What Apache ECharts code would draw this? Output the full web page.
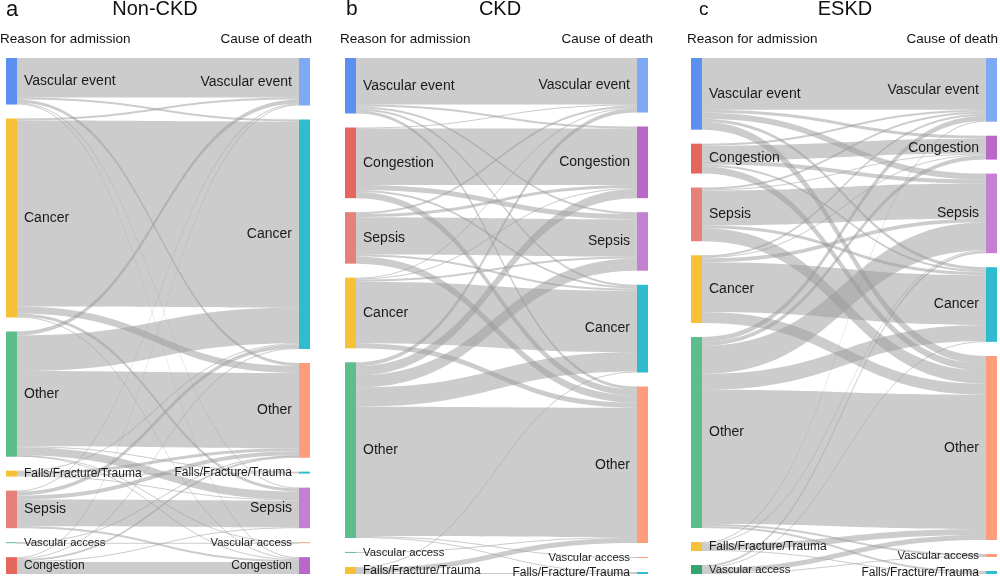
<!DOCTYPE html>
<html>
<head>
<meta charset="utf-8">
<script src="https://cdn.jsdelivr.net/npm/echarts@6/dist/echarts.min.js"></script>
<style>
html,body{margin:0;padding:0;background:#fff;}
#chart{width:1000px;height:576px;}
</style>
</head>
<body>
<div id="chart"></div>
<script>
// ---------- DATA ----------
const panelTitles = ['Non-CKD', 'CKD', 'ESKD'];
const panelLetters = ['a', 'b', 'c'];
const leftHeader = 'Reason for admission';
const rightHeader = 'Cause of death';

// Panel a: Non-CKD
const leftA = ['Vascular event', 'Cancer', 'Other', 'Falls/Fracture/Trauma', 'Sepsis', 'Vascular access', 'Congestion'];
const rightA = ['Vascular event', 'Cancer', 'Other', 'Falls/Fracture/Trauma', 'Sepsis', 'Vascular access', 'Congestion'];
const flowsA = [
  [40, 2, 3, 0, 1, 0, 1],
  [2, 188, 7, 0, 3, 0, 1],
  [4, 36, 76, 1, 8, 0.5, 1],
  [0, 1, 3, 1, 1, 0, 0],
  [1, 4, 4, 0, 27, 0, 2],
  [0, 0, 0.5, 0, 0, 0.5, 0],
  [1, 1, 2, 0, 1, 0, 12]
];

// Panel b: CKD
const leftB = ['Vascular event', 'Congestion', 'Sepsis', 'Cancer', 'Other', 'Vascular access', 'Falls/Fracture/Trauma'];
const rightB = ['Vascular event', 'Congestion', 'Sepsis', 'Cancer', 'Other', 'Vascular access', 'Falls/Fracture/Trauma'];
const flowsB = [
  [46, 2, 2, 2, 3, 0, 0],
  [1, 56, 5, 2, 6, 0, 0],
  [2, 3, 37, 2, 7, 0, 0],
  [1, 1, 2, 61, 5, 0, 0],
  [4, 9, 12, 19, 128, 1, 1],
  [0, 0, 0, 0, 1, 0, 0],
  [0, 0, 0, 1, 5, 0, 1]
];

// Panel c: ESKD
const leftC = ['Vascular event', 'Congestion', 'Sepsis', 'Cancer', 'Other', 'Falls/Fracture/Trauma', 'Vascular access'];
const rightC = ['Vascular event', 'Congestion', 'Sepsis', 'Cancer', 'Other', 'Vascular access', 'Falls/Fracture/Trauma'];
const flowsC = [
  [52, 3, 6, 3, 8, 0, 0],
  [2, 15, 4, 2, 7, 0, 0],
  [2, 1, 35, 3, 13, 0, 0],
  [2, 1, 4, 50, 11, 0, 0],
  [5, 4, 28, 16, 135, 2, 2],
  [1, 0, 1, 0, 6, 0, 1],
  [0, 0, 2, 1, 5, 1, 0]
];

// ---------- STYLE ----------
const leftColors = {
  'Vascular event': '#5B8FF0',
  'Cancer': '#F6C137',
  'Falls/Fracture/Trauma': '#F6C137',
  'Other': '#5CBE8C',
  'Vascular access': '#5CBE8C',
  'Sepsis': '#E8807A',
  'Congestion': '#E5665C'
};
const rightColors = {
  'Vascular event': '#7DA9F5',
  'Cancer': '#30BCCF',
  'Falls/Fracture/Trauma': '#30BCCF',
  'Other': '#FF9C7C',
  'Vascular access': '#FF9C7C',
  'Sepsis': '#C581D1',
  'Congestion': '#B968C9'
};
const smallFont = {'Falls/Fracture/Trauma': 12, 'Vascular access': 11.3};

const panels = [
  {left: leftA, right: rightA, flows: flowsA, x: 6, w: 304, small: {'Congestion': 12}, vaColor: '#5CBE8C'},
  {left: leftB, right: rightB, flows: flowsB, x: 345, w: 303, small: {}, vaColor: '#5CBE8C'},
  {left: leftC, right: rightC, flows: flowsC, x: 691, w: 306, small: {}, vaColor: '#36A46F'}
];

function buildSeries(p) {
  const nodes = [];
  p.left.forEach(n => {
    nodes.push({
      name: 'L|' + n,
      itemStyle: {color: n === 'Vascular access' ? p.vaColor : leftColors[n]},
      label: {position: 'right', distance: 7, fontSize: p.small[n] || smallFont[n] || 14}
    });
  });
  p.right.forEach(n => {
    nodes.push({
      name: 'R|' + n,
      itemStyle: {color: rightColors[n]},
      label: {position: 'left', distance: 7, fontSize: p.small[n] || smallFont[n] || 14}
    });
  });
  const links = [];
  p.flows.forEach((row, i) => {
    row.forEach((v, j) => {
      if (v > 0) links.push({source: 'L|' + p.left[i], target: 'R|' + p.right[j], value: v});
    });
  });
  return {
    type: 'sankey',
    left: p.x, top: 58, width: p.w, height: 516,
    nodeWidth: 11, nodeGap: 14,
    layoutIterations: 0,
    draggable: false,
    emphasis: {disabled: true},
    data: nodes, links: links,
    itemStyle: {borderWidth: 0},
    lineStyle: {color: '#999999', opacity: 0.5, curveness: 0.5},
    label: {
      color: '#1a1a1a', fontFamily: 'Liberation Sans, Arial, sans-serif',
      formatter: prm => prm.name.slice(2)
    }
  };
}

const titleFont = 'Liberation Sans, Arial, sans-serif';
const letterPos = [[6, 22], [346, 21], [699, 19]];
const titleCenter = [155, 500, 845];
const headerLeft = [0, 340, 687];
const headerRight = [312, 653, 998];
const graphics = [];
for (let k = 0; k < 3; k++) {
  graphics.push({type: 'text', left: letterPos[k][0], top: 9.5 - letterPos[k][1] * 0.0, style: {text: panelLetters[k], fontSize: letterPos[k][1], fontFamily: titleFont, fill: '#111', verticalAlign: 'middle'}, x: 0, y: 0});
}
const g2 = [];
for (let k = 0; k < 3; k++) {
  g2.push({type: 'text', x: letterPos[k][0], y: 9.5, style: {text: panelLetters[k], fontSize: letterPos[k][1], fontFamily: titleFont, fill: '#111', align: 'left', verticalAlign: 'middle'}});
  g2.push({type: 'text', x: titleCenter[k], y: 9.8, style: {text: panelTitles[k], fontSize: 20, fontFamily: titleFont, fill: '#111', align: 'center', verticalAlign: 'middle'}});
  g2.push({type: 'text', x: headerLeft[k], y: 39, style: {text: leftHeader, fontSize: 13.5, fontFamily: titleFont, fill: '#111', align: 'left', verticalAlign: 'middle'}});
  g2.push({type: 'text', x: headerRight[k], y: 39, style: {text: rightHeader, fontSize: 13.5, fontFamily: titleFont, fill: '#111', align: 'right', verticalAlign: 'middle'}});
}

const chart = echarts.init(document.getElementById('chart'), null, {renderer: 'canvas'});
chart.setOption({
  backgroundColor: '#ffffff',
  animation: false,
  graphic: g2,
  series: panels.map(buildSeries)
});
</script>
</body>
</html>
